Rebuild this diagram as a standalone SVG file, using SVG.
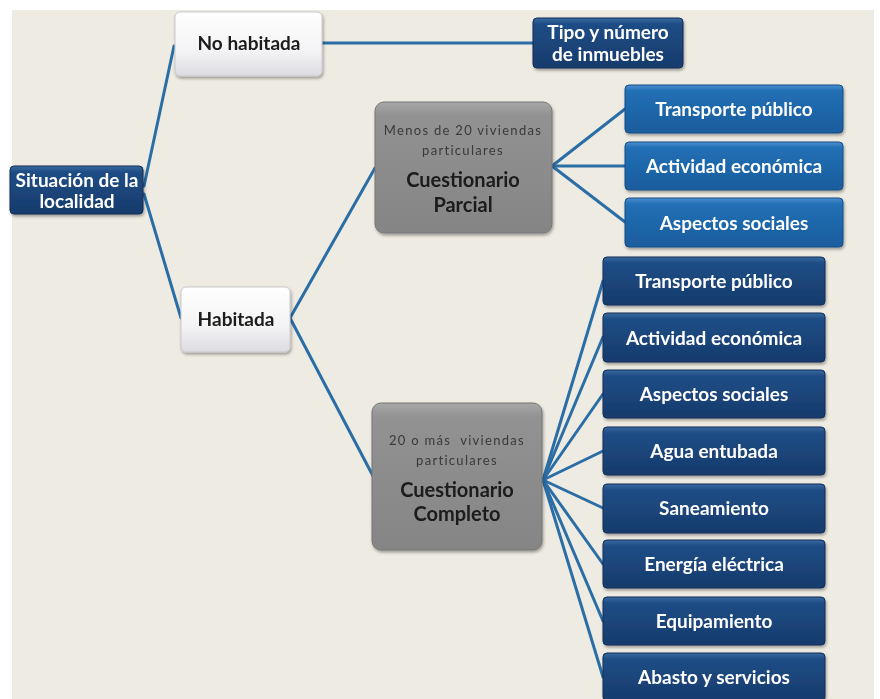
<svg xmlns="http://www.w3.org/2000/svg" width="880" height="699" viewBox="0 0 880 699">
<defs>
<linearGradient id="gDark" x1="0" y1="0" x2="0" y2="1">
<stop offset="0" stop-color="#3a6aa0"/><stop offset="0.12" stop-color="#1f4d86"/><stop offset="1" stop-color="#163b6c"/>
</linearGradient>
<linearGradient id="gBlue" x1="0" y1="0" x2="0" y2="1">
<stop offset="0" stop-color="#4d8fd0"/><stop offset="0.12" stop-color="#226fb5"/><stop offset="1" stop-color="#1a5d9d"/>
</linearGradient>
<linearGradient id="gGrey" x1="0" y1="0" x2="0" y2="1">
<stop offset="0" stop-color="#a8a8a8"/><stop offset="0.1" stop-color="#929292"/><stop offset="1" stop-color="#858585"/>
</linearGradient>
<linearGradient id="gWhite" x1="0" y1="0" x2="0" y2="1">
<stop offset="0" stop-color="#ffffff"/><stop offset="0.6" stop-color="#f4f3f5"/><stop offset="1" stop-color="#dcdbe0"/>
</linearGradient>
<filter id="sh" x="-10%" y="-10%" width="125%" height="130%">
<feDropShadow dx="1" dy="2" stdDeviation="1.5" flood-color="#000" flood-opacity="0.35"/>
</filter>
</defs>
<style>
.dark{fill:url(#gDark);stroke:#0f2e58;stroke-width:1}
.blue{fill:url(#gBlue);stroke:#164f88;stroke-width:1}
.grey{fill:url(#gGrey);stroke:#777;stroke-width:1}
.white{fill:url(#gWhite);stroke:#c9c8cc;stroke-width:1}
.box{filter:url(#sh)}
.lt{font-family:Lato,"Liberation Sans",sans-serif;font-weight:bold;font-size:19px;fill:#fff;text-anchor:middle}
.bk{font-family:Lato,"Liberation Sans",sans-serif;font-weight:bold;font-size:19px;fill:#1a1a1a;text-anchor:middle}
.sm{font-family:Lato,"Liberation Sans",sans-serif;font-size:13px;letter-spacing:1.3px;fill:#3a3a3a;text-anchor:middle;white-space:pre}
.cq{font-family:Lato,"Liberation Sans",sans-serif;font-weight:bold;font-size:20px;fill:#1a1a1a;text-anchor:middle}
.ln{stroke:#2b6ea6;stroke-width:3;fill:none;stroke-linecap:round}
</style>
<rect x="0" y="0" width="880" height="699" fill="#ffffff"/>
<rect x="12" y="10" width="862" height="689" fill="#eeebe2"/>

<g id="connectors">
<line class="ln" x1="144" y1="186" x2="174" y2="46"/>
<line class="ln" x1="144" y1="194" x2="181" y2="318"/>
<line class="ln" x1="322" y1="43" x2="533" y2="43"/>
<line class="ln" x1="290" y1="318" x2="375" y2="168"/>
<line class="ln" x1="290" y1="318" x2="373" y2="476"/>
<line class="ln" x1="552" y1="166" x2="625" y2="109"/>
<line class="ln" x1="552" y1="166" x2="625" y2="166"/>
<line class="ln" x1="552" y1="166" x2="625" y2="222"/>
<line class="ln" x1="543" y1="480" x2="603" y2="281"/>
<line class="ln" x1="543" y1="480" x2="603" y2="337"/>
<line class="ln" x1="543" y1="480" x2="603" y2="394"/>
<line class="ln" x1="543" y1="480" x2="603" y2="451"/>
<line class="ln" x1="543" y1="480" x2="603" y2="508"/>
<line class="ln" x1="543" y1="480" x2="603" y2="564"/>
<line class="ln" x1="543" y1="480" x2="603" y2="621"/>
<line class="ln" x1="543" y1="480" x2="603" y2="677"/>
</g>

<g id="situacion" class="box">
<rect class="dark" x="10" y="166" width="133" height="48" rx="4"/>
<text class="lt" x="77" y="187">Situación de la</text>
<text class="lt" x="77" y="208">localidad</text>
</g>

<g id="no-habitada" class="box">
<rect class="white" x="175" y="12" width="147" height="64" rx="5"/>
<text class="bk" x="249" y="50">No habitada</text>
</g>

<g id="tipo" class="box">
<rect class="dark" x="533" y="18" width="150" height="50" rx="4"/>
<text class="lt" x="608" y="39">Tipo y número</text>
<text class="lt" x="608" y="61">de inmuebles</text>
</g>

<g id="habitada" class="box">
<rect class="white" x="181" y="287" width="109" height="65" rx="5"/>
<text class="bk" x="236" y="326">Habitada</text>
</g>

<g id="parcial" class="box">
<rect class="grey" x="375" y="102" width="177" height="131" rx="9"/>
<text class="sm" x="463" y="135">Menos de 20 viviendas</text>
<text class="sm" x="463" y="155">particulares</text>
<text class="cq" x="463" y="187">Cuestionario</text>
<text class="cq" x="463" y="212">Parcial</text>
</g>

<g id="completo" class="box">
<rect class="grey" x="372" y="403" width="170" height="147" rx="9"/>
<text class="sm" x="457" y="445">20 o más  viviendas</text>
<text class="sm" x="457" y="465">particulares</text>
<text class="cq" x="457" y="497">Cuestionario</text>
<text class="cq" x="457" y="521">Completo</text>
</g>

<g id="p-transporte" class="box">
<rect class="blue" x="625" y="85" width="218" height="48" rx="4"/>
<text class="lt" x="734" y="116">Transporte público</text>
</g>
<g id="p-actividad" class="box">
<rect class="blue" x="625" y="142" width="218" height="48" rx="4"/>
<text class="lt" x="734" y="173">Actividad económica</text>
</g>
<g id="p-aspectos" class="box">
<rect class="blue" x="625" y="198" width="218" height="49" rx="4"/>
<text class="lt" x="734" y="230">Aspectos sociales</text>
</g>

<g id="c-transporte" class="box">
<rect class="dark" x="603" y="257" width="222" height="48" rx="4"/>
<text class="lt" x="714" y="288">Transporte público</text>
</g>
<g id="c-actividad" class="box">
<rect class="dark" x="603" y="313" width="222" height="49" rx="4"/>
<text class="lt" x="714" y="345">Actividad económica</text>
</g>
<g id="c-aspectos" class="box">
<rect class="dark" x="603" y="370" width="222" height="48" rx="4"/>
<text class="lt" x="714" y="401">Aspectos sociales</text>
</g>
<g id="c-agua" class="box">
<rect class="dark" x="603" y="427" width="222" height="48" rx="4"/>
<text class="lt" x="714" y="458">Agua entubada</text>
</g>
<g id="c-saneamiento" class="box">
<rect class="dark" x="603" y="484" width="222" height="49" rx="4"/>
<text class="lt" x="714" y="515">Saneamiento</text>
</g>
<g id="c-energia" class="box">
<rect class="dark" x="603" y="540" width="222" height="48" rx="4"/>
<text class="lt" x="714" y="571">Energía eléctrica</text>
</g>
<g id="c-equipamiento" class="box">
<rect class="dark" x="603" y="597" width="222" height="48" rx="4"/>
<text class="lt" x="714" y="628">Equipamiento</text>
</g>
<g id="c-abasto" class="box">
<rect class="dark" x="603" y="653" width="222" height="48" rx="4"/>
<text class="lt" x="714" y="684">Abasto y servicios</text>
</g>
</svg>
